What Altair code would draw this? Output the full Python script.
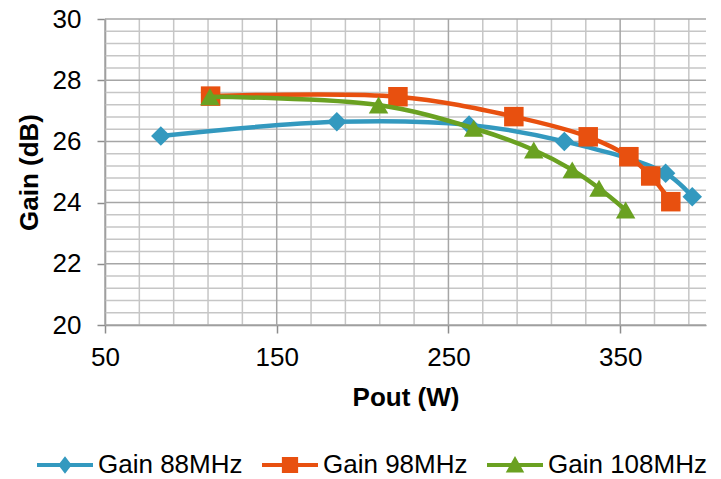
import altair as alt
import pandas as pd

series_names = ["Gain 88MHz", "Gain 98MHz", "Gain 108MHz"]
colors = ["#3399BF", "#E8500F", "#6AA121"]
marker_shapes = ["diamond", "square", "triangle-up"]

pout_88 = [82.5, 185, 262, 317.5, 376.5, 392]
gain_88 = [26.18, 26.64, 26.54, 26.0, 24.96, 24.19]
pout_98 = [111.5, 220.6, 288.1, 331.4, 355.1, 367.8, 379.5]
gain_98 = [27.48, 27.46, 26.81, 26.15, 25.5, 24.87, 24.03]
pout_108 = [111.1, 209.3, 264.7, 299.7, 322.1, 337.7, 353.2]
gain_108 = [27.46, 27.19, 26.43, 25.72, 25.07, 24.47, 23.76]

x_major_ticks = [50, 150, 250, 350]
x_minor_ticks = [70, 90, 110, 130, 170, 190, 210, 230, 270, 290, 310, 330,
                 370, 390]
y_major_ticks = [20, 22, 24, 26, 28, 30]
y_minor_ticks = [20.4, 20.8, 21.2, 21.6, 22.4, 22.8, 23.2, 23.6, 24.4, 24.8,
                 25.2, 25.6, 26.4, 26.8, 27.2, 27.6, 28.4, 28.8, 29.2, 29.6]

# legend symbols: line segment with the series marker
legend_paths = [
    "M-1,-0.075L1,-0.075L1,0.075L-1,0.075Z M0,-0.31L0.24,0L0,0.31L-0.24,0Z",
    "M-1,-0.075L1,-0.075L1,0.075L-1,0.075Z M-0.29,-0.29L0.29,-0.29L0.29,0.29L-0.29,0.29Z",
    "M-1,-0.075L1,-0.075L1,0.075L-1,0.075Z M0,-0.32L0.33,0.27L-0.33,0.27Z",
]

rows = []
for name, xs, ys in [(series_names[0], pout_88, gain_88),
                     (series_names[1], pout_98, gain_98),
                     (series_names[2], pout_108, gain_108)]:
    for i, (xv, yv) in enumerate(zip(xs, ys)):
        rows.append({"series": name, "idx": i, "pout": xv, "gain": yv})
df = pd.DataFrame(rows)

FONT = "Liberation Sans"
FS = 26
GRID_MINOR = "#C6C6C6"
GRID_MAJOR = "#A6A6A6"

x_scale = alt.Scale(domain=[50, 400], nice=False, zero=False)
y_scale = alt.Scale(domain=[20, 30], nice=False, zero=False)

x_enc = alt.X(
    "pout:Q",
    scale=x_scale,
    axis=alt.Axis(
        title="Pout (W)",
        values=x_major_ticks,
        format="d",
        grid=False,
        labelOverlap=False,
        labelFlush=False,
        labelFontSize=FS,
        labelColor="#000000",
        labelPadding=11,
        tickSize=8,
        tickWidth=1.5,
        tickColor="#8C8C8C",
        domainColor="#8C8C8C",
        domainWidth=1.5,
        titleFontSize=FS,
        titleFontWeight="bold",
        titleColor="#000000",
        titlePadding=14,
    ),
)

y_enc = alt.Y(
    "gain:Q",
    scale=y_scale,
    axis=alt.Axis(
        title="Gain (dB)",
        values=y_major_ticks,
        format="d",
        grid=False,
        labelOverlap=False,
        labelFlush=False,
        labelFontSize=FS,
        labelColor="#000000",
        labelPadding=16,
        tickSize=8,
        tickWidth=1.5,
        tickColor="#8C8C8C",
        domainColor="#8C8C8C",
        domainWidth=1.5,
        titleFontSize=FS,
        titleFontWeight="bold",
        titleColor="#000000",
        titlePadding=10,
    ),
)

# grid lines drawn from the tick arrays through the scales
layers = [
    alt.Chart(pd.DataFrame({"pout": x_minor_ticks})).mark_rule(
        color=GRID_MINOR, strokeWidth=1.5).encode(x=x_enc),
    alt.Chart(pd.DataFrame({"gain": y_minor_ticks})).mark_rule(
        color=GRID_MINOR, strokeWidth=1.5).encode(y=y_enc),
    alt.Chart(pd.DataFrame({"gain": y_major_ticks})).mark_rule(
        color=GRID_MAJOR, strokeWidth=1.5).encode(y=y_enc),
    alt.Chart(pd.DataFrame({"pout": x_major_ticks})).mark_rule(
        color=GRID_MAJOR, strokeWidth=1.5).encode(x=x_enc),
]

for name, col, shp in zip(series_names, colors, marker_shapes):
    base = alt.Chart(df).transform_filter(alt.datum.series == name)
    line = base.mark_line(color=col, strokeWidth=4.5, interpolate="catmull-rom").encode(
        x=x_enc, y=y_enc, order="idx:Q"
    )
    pts = base.mark_point(shape=shp, size=380, filled=True, color=col, opacity=1,
                          strokeWidth=0).encode(x=x_enc, y=y_enc)
    layers += [line, pts]

legend_def = alt.Legend(
    title=None,
    orient="none",
    legendX=-68,
    legendY=418,
    direction="horizontal",
    columns=3,
    symbolSize=3136,
    symbolStrokeWidth=0,
    symbolOpacity=1,
    labelFontSize=FS,
    labelFont=FONT,
    labelColor="#000000",
    labelOffset=5,
    labelLimit=400,
    columnPadding=19,
)

legend_layer = alt.Chart(df).transform_filter("false").mark_point(
    filled=True, opacity=1, strokeWidth=0
).encode(
    x=x_enc,
    y=y_enc,
    color=alt.Color("series:N", scale=alt.Scale(domain=series_names, range=colors),
                    legend=legend_def),
    shape=alt.Shape("series:N", scale=alt.Scale(domain=series_names, range=legend_paths),
                    legend=legend_def),
)
layers.append(legend_layer)

chart = alt.layer(*layers).properties(
    width=601,
    height=306,
    autosize=alt.AutoSizeParams(type="none"),
    padding={"left": 105, "top": 19, "right": 15, "bottom": 154},
    background="#FFFFFF",
).configure(font=FONT).configure_view(stroke=None)

chart.save("out.html", embed_options={"renderer": "svg", "actions": False})
